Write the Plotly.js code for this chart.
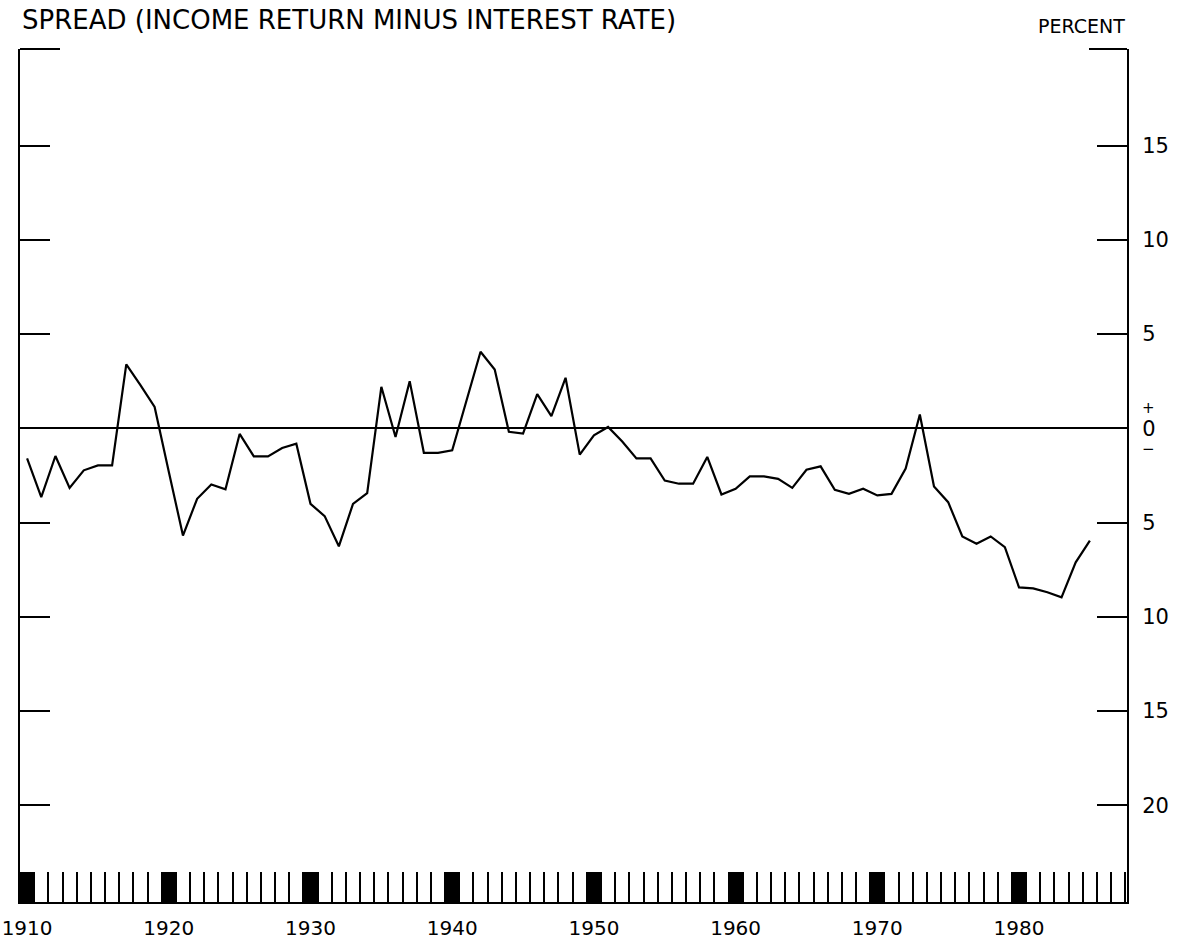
<!DOCTYPE html>
<html>
<head>
<meta charset="utf-8">
<script src="https://cdn.plot.ly/plotly-3.0.1.min.js"></script>
<style>
  html, body { margin: 0; padding: 0; background: #fff; }
  #myGraph { width: 1181px; height: 941px; }
</style>
</head>
<body>
<div id="myGraph"></div>
<script>
/* 資料 : 年份 與 利差 (income return minus interest rate) */
let years = [
    1910, 1911, 1912, 1913, 1914, 1915, 1916, 1917, 1918, 1919,
    1920, 1921, 1922, 1923, 1924, 1925, 1926, 1927, 1928, 1929,
    1930, 1931, 1932, 1933, 1934, 1935, 1936, 1937, 1938, 1939,
    1940, 1941, 1942, 1943, 1944, 1945, 1946, 1947, 1948, 1949,
    1950, 1951, 1952, 1953, 1954, 1955, 1956, 1957, 1958, 1959,
    1960, 1961, 1962, 1963, 1964, 1965, 1966, 1967, 1968, 1969,
    1970, 1971, 1972, 1973, 1974, 1975, 1976, 1977, 1978, 1979,
    1980, 1981, 1982, 1983, 1984, 1985
];
let spread = [
    -1.6, -3.65, -1.47, -3.16, -2.23, -1.97, -1.97, 3.39, 2.29, 1.13,
    -2.3, -5.69, -3.74, -2.98, -3.24, -0.3, -1.49, -1.49, -1.05, -0.82,
    -4.01, -4.66, -6.26, -4.01, -3.44, 2.2, -0.46, 2.5, -1.3, -1.3,
    -1.17, 1.4, 4.06, 3.12, -0.19, -0.28, 1.81, 0.64, 2.68, -1.4,
    -0.37, 0.07, -0.7, -1.6, -1.6, -2.77, -2.94, -2.94, -1.52, -3.51,
    -3.21, -2.55, -2.55, -2.68, -3.16, -2.2, -2.02, -3.26, -3.48, -3.21,
    -3.56, -3.48, -2.14, 0.73, -3.09, -3.92, -5.74, -6.13, -5.74, -6.31,
    -8.44, -8.49, -8.7, -8.97, -7.11, -5.96
];

// 刻度
let decades = [1910, 1920, 1930, 1940, 1950, 1960, 1970, 1980];
let decadeLabels = ['1910', '1920', '1930', '1940', '1950', '1960', '1970', '1980'];
let yTicks = [-20, -15, -10, -5, 0, 5, 10, 15];
let yTickLabels = ['20', '15', '10', '5', '0', '5', '10', '15'];

let myGraph = document.getElementById('myGraph');
let font = 'DejaVu Sans, sans-serif';

let trace1 = {
    type: 'scatter',
    mode: 'lines',
    x: years,
    y: spread,
    line: { color: 'black', width: 2.2 },
    hoverinfo: 'x+y',
    showlegend: false
};

// 每十年的黑色方塊 (底部)
let shapes = decades.map(function (d) {
    return {
        type: 'rect', xref: 'x', yref: 'paper',
        x0: d - 0.5, x1: d + 0.5, y0: 0, y1: 30 / 853,
        fillcolor: 'black', line: { width: 0 }
    };
});
// 上方兩個角
shapes.push({ type: 'line', xref: 'paper', yref: 'paper', x0: 0, x1: 40 / 1107, y0: 1, y1: 1, line: { color: 'black', width: 2 } });
shapes.push({ type: 'line', xref: 'paper', yref: 'paper', x0: 1 - 38 / 1107, x1: 1, y0: 1, y1: 1, line: { color: 'black', width: 2 } });

let xRange = [1909.5, 1987.62];
let yRange = [-25.13, 20.12];

let layout = {
    width: 1181,
    height: 941,
    margin: { l: 20, r: 54, t: 49, b: 39 },
    paper_bgcolor: 'white',
    plot_bgcolor: 'white',
    font: { family: font, color: 'black' },
    title: {
        text: 'SPREAD (INCOME RETURN MINUS INTEREST RATE)',
        xref: 'container', yref: 'container',
        x: 22 / 1181, xanchor: 'left',
        y: 1 - 11 / 941, yanchor: 'top',
        font: { family: font, size: 26, color: 'black' }
    },
    xaxis: {
        range: xRange,
        tickmode: 'array',
        tickvals: decades,
        ticktext: decadeLabels,
        ticks: '',
        ticklabelstandoff: 7,
        tickfont: { family: font, size: 20 },
        minor: {
            tickmode: 'linear', tick0: 1909.5, dtick: 1,
            ticks: 'inside', ticklen: 30, tickwidth: 1.5, tickcolor: 'black'
        },
        showgrid: false,
        zeroline: false,
        showline: true,
        linecolor: 'black',
        linewidth: 2
    },
    yaxis: {
        range: yRange,
        side: 'right',
        tickmode: 'array',
        tickvals: yTicks,
        ticktext: yTickLabels,
        ticks: 'inside',
        ticklen: 30,
        tickwidth: 2,
        tickcolor: 'black',
        ticklabelstandoff: 9,
        tickfont: { family: font, size: 21 },
        showgrid: false,
        zeroline: true,
        zerolinecolor: 'black',
        zerolinewidth: 2,
        showline: true,
        linecolor: 'black',
        linewidth: 2
    },
    yaxis2: {
        range: yRange,
        overlaying: 'y',
        side: 'left',
        tickmode: 'array',
        tickvals: yTicks.filter(function (v) { return v !== 0; }),
        ticks: 'inside',
        ticklen: 30,
        tickwidth: 2,
        tickcolor: 'black',
        showticklabels: false,
        showgrid: false,
        zeroline: false,
        showline: true,
        linecolor: 'black',
        linewidth: 2
    },
    shapes: shapes,
    annotations: [
        {
            text: 'PERCENT', showarrow: false,
            xref: 'paper', yref: 'paper', x: 1, xanchor: 'right',
            y: 1 + 10 / 853, yanchor: 'bottom',
            font: { family: font, size: 19, color: 'black' }
        },
        {
            text: '+', showarrow: false,
            xref: 'paper', yref: 'y', x: 1 + 21 / 1107, xanchor: 'center',
            y: 0, yshift: 20,
            font: { family: font, size: 15, color: 'black' }
        },
        {
            text: '\u2212', showarrow: false,
            xref: 'paper', yref: 'y', x: 1 + 21 / 1107, xanchor: 'center',
            y: 0, yshift: -21,
            font: { family: font, size: 15, color: 'black' }
        }
    ]
};

// 左側刻度用的隱形線
let trace2 = {
    type: 'scatter', mode: 'lines', x: years, y: spread, yaxis: 'y2',
    line: { width: 0 }, hoverinfo: 'skip', showlegend: false
};

let data = [];
data.push(trace2);
data.push(trace1);

Plotly.newPlot(myGraph, data, layout, { displayModeBar: false });
</script>
</body>
</html>
